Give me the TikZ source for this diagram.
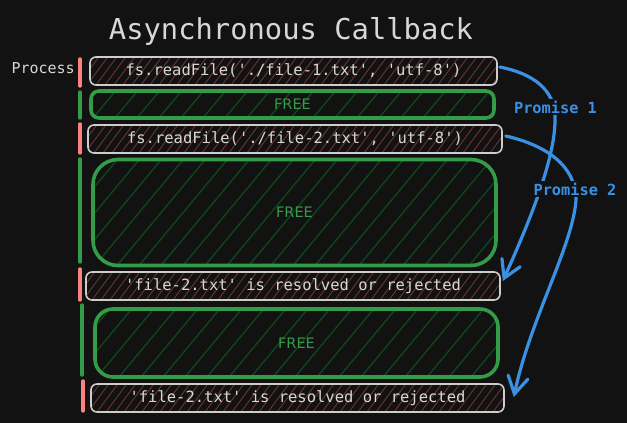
\documentclass[tikz,border=0pt]{standalone}
\usepackage{fontspec}
\usepackage{tikz}
\usetikzlibrary{arrows.meta}
\newfontfamily\codefont{DejaVu Sans Mono}
\newfontfamily\freefont{DejaVu Sans}
\definecolor{bgdark}{RGB}{18,18,18}
\definecolor{boxgray}{RGB}{205,205,205}
\definecolor{textgray}{RGB}{215,215,215}
\definecolor{hatchred}{RGB}{115,52,52}
\definecolor{freegreen}{RGB}{52,155,72}
\definecolor{hatchgreen}{RGB}{14,72,26}
\definecolor{barred}{RGB}{250,130,130}
\definecolor{promblue}{RGB}{58,145,228}

\begin{document}
\begin{tikzpicture}[x=1pt, y=-1pt,
    callbox/.style={draw=boxgray, line width=1.6pt, rounded corners=6pt,
        minimum height=28pt, text=textgray,
        font=\codefont\fontsize{15.5}{18}\selectfont,
        path picture={\foreach \k in {0,9,...,560}
            \draw[hatchred, line width=0.85pt] ([xshift=\k pt-120pt]path picture bounding box.south west) -- ++(90pt,121.5pt);}},
    freebox/.style={draw=freegreen, line width=3.6pt, text=freegreen,
        font=\freefont\fontsize{14.5}{17}\selectfont,
        path picture={\foreach \k in {0,22,...,580}
            \draw[hatchgreen, line width=1.3pt] ([xshift=\k pt-130pt]path picture bounding box.south west) -- ++(120pt,144pt);}},
    bar/.style={line width=3.4pt, line cap=round},
    promarrow/.style={draw=promblue, line width=3.2pt, line cap=round,
        -{Straight Barb[length=17pt, width=20pt, line cap=round]}},
    promlabel/.style={text=promblue, fill=bgdark, inner sep=1.5pt,
        font=\codefont\bfseries\fontsize{15.3}{18}\selectfont}]
    \useasboundingbox (0,0) rectangle (627,423);
    \fill[bgdark] (0,0) rectangle (627,423);
    % Title
    \node[anchor=base, text=textgray, font=\codefont\fontsize{28.8}{32}\selectfont] (title) at (291,39) {Asynchronous Callback};
    \node[anchor=base west, text=textgray, font=\codefont\fontsize{15}{18}\selectfont] (process) at (8,73) {Process};
    % Timeline blocks
    \node[callbox, minimum width=407pt] (call1) at (293.5,71) {fs.readFile('./file-1.txt', 'utf-8')};
    \node[freebox, rounded corners=8pt, minimum width=403pt, minimum height=27pt] (free1) at (292.5,104.5) {FREE};
    \node[callbox, minimum width=414pt] (call2) at (295,139) {fs.readFile('./file-2.txt', 'utf-8')};
    \node[freebox, rounded corners=25pt, minimum width=403pt, minimum height=106pt] (free2) at (294.5,212.5) {FREE};
    \node[callbox, minimum width=414pt] (done1) at (293,286) {'file-2.txt' is resolved or rejected};
    \node[freebox, rounded corners=18pt, minimum width=403pt, minimum height=68pt] (free3) at (296.5,343) {FREE};
    \node[callbox, minimum width=413pt] (done2) at (297.5,398) {'file-2.txt' is resolved or rejected};
    % Side bars
    \draw[bar, barred] (80,59) -- (80,86);
    \draw[bar, freegreen] (80,92) -- (80,118);
    \draw[bar, barred] (80,124) -- (80,153);
    \draw[bar, freegreen] (80,159) -- (80,262);
    \draw[bar, barred] (80,269) -- (80,300);
    \draw[bar, freegreen] (82,305) -- (82,375);
    \draw[bar, barred] (83,381) -- (83,411);
    % Promises
    \draw[promarrow] ([xshift=2pt, yshift=4pt]call1.east) .. controls (540,75) and (556,95) .. (555,120)
        .. controls (555,160) and (528,225) .. ([xshift=2pt, yshift=5pt]done1.east);
    \draw[promarrow] ([xshift=3pt, yshift=3pt]call2.east) .. controls (545,145) and (576,165) .. (576,200)
        .. controls (573,245) and (530,320) .. ([xshift=9pt, yshift=1pt]done2.east);
    \node[promlabel, anchor=base] (prom1) at (555.5,113) {Promise 1};
    \node[promlabel, anchor=base] (prom2) at (575,195) {Promise 2};
\end{tikzpicture}
\end{document}
